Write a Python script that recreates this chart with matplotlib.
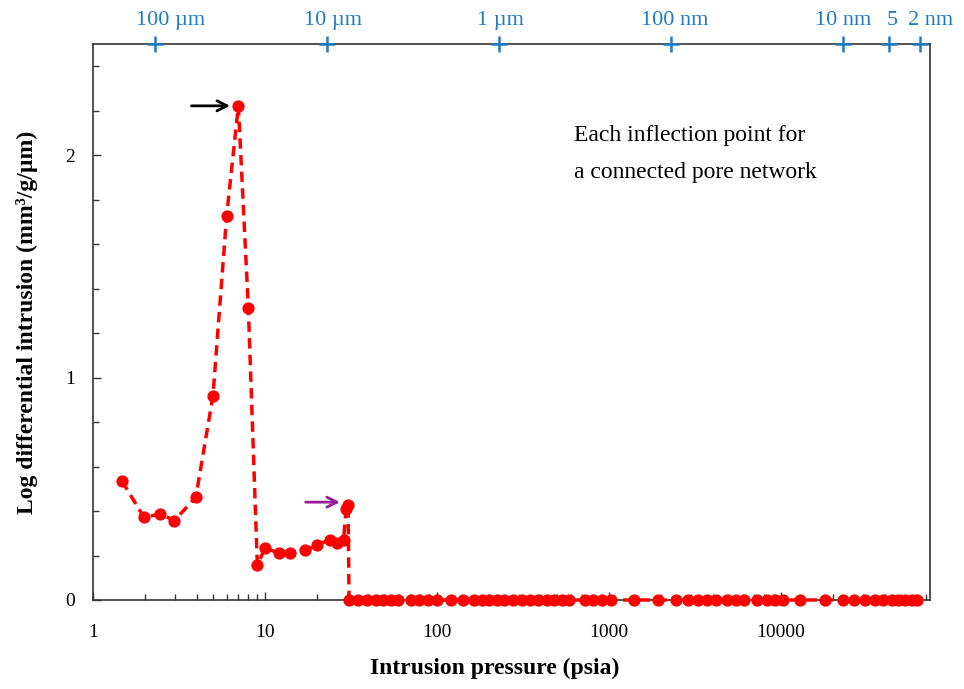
import matplotlib
matplotlib.use("Agg")
import matplotlib.pyplot as plt
import matplotlib.transforms as mtransforms
from matplotlib.ticker import FixedLocator, NullFormatter, LogLocator

# ---- data ----
pressure = [1.47, 1.98, 2.46, 2.97, 3.96, 4.98, 5.98, 7.0, 8.0, 9.02, 10.0, 12.0, 14.0,
            17.1, 20.1, 23.9, 26.1, 28.6, 29.6, 30.4,
            30.8, 34.9, 39.3, 44.2, 48.7, 54.0, 59.6, 70.3, 78.9, 89.0, 99.6, 120, 141,
            164, 182, 201, 222, 246, 275, 311, 347, 388, 434, 479, 531, 588, 725, 811,
            906, 1027, 1403, 1936, 2443, 2869, 3281, 3701, 4173, 4833, 5453, 6121, 7225,
            8260, 9230, 10310, 12890, 18010, 23030, 26680, 30780, 35200, 39360, 44040,
            48090, 52620, 57560, 61540]
intrusion = [0.536, 0.371, 0.387, 0.357, 0.462, 0.917, 1.727, 2.222, 1.312, 0.158, 0.233,
             0.212, 0.212, 0.223, 0.249, 0.270, 0.255, 0.270, 0.410, 0.428] + [0.0] * 56

top_labels = ["100 µm", "10 µm", "1 µm", "100 nm", "10 nm", "5", "2 nm"]
top_positions = [2.29, 22.9, 229, 2290, 22900, 42500, 64700]

x_ticks = [1, 10, 100, 1000, 10000]
x_ticklabels = ["1", "10", "100", "1000", "10000"]
y_ticks = [0, 1, 2]

BLUE = "#1f7cc4"
RED = "#ff0000"
SERIF = "Liberation Serif"

fig = plt.figure(figsize=(9.64, 6.89), dpi=100)
ax = fig.add_axes([0.0965, 0.1292, 0.8682, 0.8069])

ax.plot(pressure, intrusion, color=RED, linestyle=(0, (3, 1.8)), linewidth=2.5,
        marker="o", markersize=7.8, markeredgecolor=RED, markerfacecolor=RED,
        clip_on=False, zorder=3)

ax.set_xscale("log")
ax.set_xlim(1, 10 ** 4.866)
ax.set_ylim(0, 2.5)

ax.xaxis.set_major_locator(FixedLocator(x_ticks))
ax.set_xticklabels(x_ticklabels, family=SERIF, fontsize=14)
ax.xaxis.set_minor_locator(LogLocator(base=10, subs=range(2, 10), numticks=20))
ax.xaxis.set_minor_formatter(NullFormatter())
ax.set_yticks(y_ticks)
ax.set_yticklabels([str(v) for v in y_ticks], family=SERIF, fontsize=14)
ax.yaxis.set_minor_locator(FixedLocator([0.2, 0.4, 0.6, 0.8, 1.2, 1.4, 1.6, 1.8, 2.2, 2.4]))

ax.tick_params(axis="x", which="major", direction="in", length=6, width=1.0,
               color="#333333", pad=17, top=False)
ax.tick_params(axis="y", which="major", direction="in", length=6, width=1.0,
               color="#333333", pad=13, right=False)
ax.tick_params(axis="both", which="minor", direction="in", length=4, width=1.0,
               color="#333333", top=False, right=False)
for s in ax.spines.values():
    s.set_color("#333333")
    s.set_linewidth(1.2)

ax.set_xlabel("Intrusion pressure (psia)", family=SERIF, fontsize=17, fontweight="bold")
ax.xaxis.set_label_coords(0.48, -0.104)
ax.set_ylabel("Log differential intrusion (mm³/g/µm)", family=SERIF,
              fontsize=17, fontweight="bold")
ax.yaxis.set_label_coords(-0.066, 0.5)

# top axis: pore diameter
axt = ax.twiny()
axt.set_xscale("log")
axt.set_xlim(ax.get_xlim())
axt.xaxis.set_major_locator(FixedLocator(top_positions))
axt.xaxis.set_minor_locator(FixedLocator([]))
axt.set_xticklabels(top_labels, family=SERIF, fontsize=16, color=BLUE)
axt.tick_params(axis="x", which="major", length=0, pad=10)
label_shift_px = [16, 6, 2, 4, 0, 3, 10]
for lab, dx in zip(axt.get_xticklabels(), label_shift_px):
    lab.set_transform(lab.get_transform() +
                      mtransforms.ScaledTranslation(dx / 100, 0, fig.dpi_scale_trans))
for s in axt.spines.values():
    s.set_visible(False)
trans = mtransforms.blended_transform_factory(axt.transData, axt.transAxes)
axt.plot(top_positions, [1.0] * len(top_positions), linestyle="none", marker="+",
         markersize=11, markeredgewidth=1.8, color=BLUE, transform=trans,
         clip_on=False, zorder=5)

# annotations
ax.text(0.575, 0.855, "Each inflection point for\na connected pore network",
        transform=ax.transAxes, family=SERIF, fontsize=17,
        va="top", ha="left", linespacing=2.0)
ax.annotate("", xy=(6.5, 2.222), xytext=(3.6, 2.222),
            arrowprops=dict(arrowstyle="->", color="black", lw=2.0,
                            mutation_scale=18))
ax.annotate("", xy=(28.3, 0.44), xytext=(16.6, 0.44),
            arrowprops=dict(arrowstyle="->", color="#9b1c9b", lw=2.0,
                            mutation_scale=18))

fig.savefig("out.png", dpi=100)
